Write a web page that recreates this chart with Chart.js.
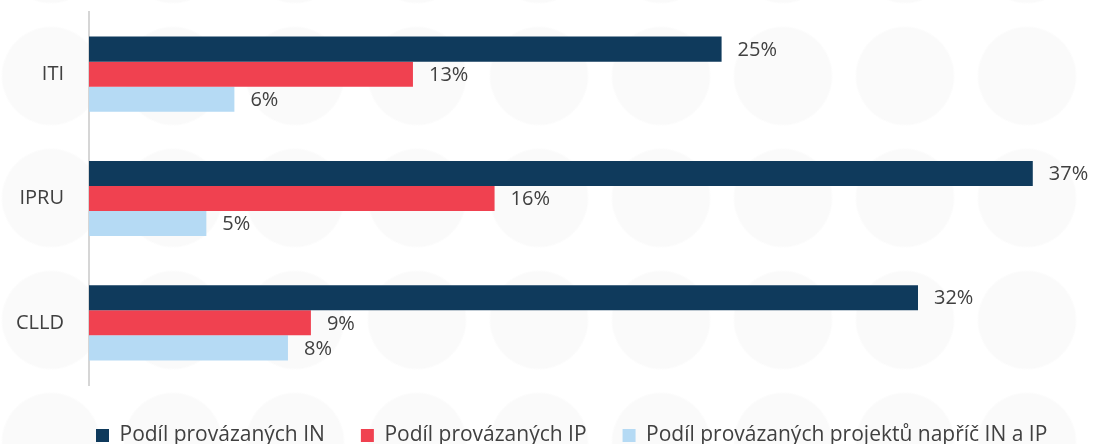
<!DOCTYPE html>
<html>
<head>
<meta charset="utf-8">
<script src="https://cdn.jsdelivr.net/npm/chart.js@4"></script>
<style>
  html, body { margin: 0; padding: 0; }
  body {
    width: 1094px; height: 444px; overflow: hidden;
    background-color: #ffffff;
    background-image: radial-gradient(circle at 50% 50%, #fafafa 0, #fafafa 48px, rgba(255,255,255,0) 50px);
    background-size: 122px 122px;
    background-position: -10px 15px;
  }
  #wrap { position: relative; width: 1094px; height: 444px; }
</style>
</head>
<body>
<div id="wrap"><canvas id="chart" width="1094" height="444"></canvas></div>
<script>
// --- DATA ---
const categories = ['ITI', 'IPRU', 'CLLD'];
const seriesNames = ['Podíl provázaných IN', 'Podíl provázaných IP', 'Podíl provázaných projektů napříč IN a IP'];
const valuesIN = [24.8, 37.0, 32.5];
const valuesIP = [12.7, 15.9, 8.7];
const valuesCross = [5.7, 4.6, 7.8];
const labelsIN = ['25%', '37%', '32%'];
const labelsIP = ['13%', '16%', '9%'];
const labelsCross = ['6%', '5%', '8%'];

const colors = ['#0f3a5c', '#f04150', '#b5daf4'];
const textColor = '#404040';

// value labels to the right of each bar
const barLabels = {
  id: 'barLabels',
  afterDatasetsDraw(chart) {
    const ctx = chart.ctx;
    ctx.save();
    ctx.font = '20px "Open Sans", sans-serif';
    ctx.fillStyle = textColor;
    ctx.textAlign = 'left';
    ctx.textBaseline = 'middle';
    chart.data.datasets.forEach((ds, i) => {
      chart.getDatasetMeta(i).data.forEach((bar, j) => {
        ctx.fillText(ds.valueLabels[j], bar.x + 16, bar.y + 1);
      });
    });
    ctx.restore();
  }
};

// legend in the original starts a bit right of the canvas edge and sits a bit lower
const legendShift = {
  id: 'legendShift',
  afterLayout(chart) {
    const lg = chart.legend;
    if (!lg) return;
    lg.left += 60;
    lg.right += 60;
    lg.top += 4;
    lg.bottom += 4;
  }
};

new Chart(document.getElementById('chart'), {
  type: 'bar',
  data: {
    labels: categories,
    datasets: [
      { label: seriesNames[0], data: valuesIN, valueLabels: labelsIN, backgroundColor: colors[0] },
      { label: seriesNames[1], data: valuesIP, valueLabels: labelsIP, backgroundColor: colors[1] },
      { label: seriesNames[2], data: valuesCross, valueLabels: labelsCross, backgroundColor: colors[2] }
    ]
  },
  options: {
    indexAxis: 'y',
    responsive: false,
    animation: false,
    layout: { padding: { top: 12, right: 0, bottom: 0, left: 0 } },
    datasets: { bar: { categoryPercentage: 0.605, barPercentage: 1.0, borderWidth: 0 } },
    scales: {
      x: { display: false, min: 0, max: 39.4 },
      y: {
        grid: { display: false },
        border: { display: true, color: '#d6d6d6', width: 2 },
        ticks: { color: textColor, font: { family: 'Open Sans', size: 20 }, padding: 17 },
        afterFit(scale) {
          scale.width = 89;
          scale.paddingTop = 0;
          scale.paddingBottom = 0;
        }
      }
    },
    plugins: {
      tooltip: { enabled: false },
      legend: {
        position: 'bottom',
        align: 'start',
        maxHeight: 59,
        labels: {
          color: textColor,
          font: { family: 'Open Sans', size: 21 },
          boxWidth: 13,
          boxHeight: 13,
          padding: 36
        }
      }
    }
  },
  plugins: [barLabels, legendShift]
});
</script>
</body>
</html>
